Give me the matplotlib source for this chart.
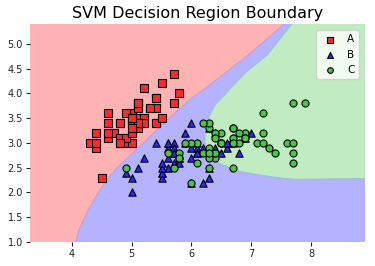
import numpy as np
import matplotlib
matplotlib.use("Agg")
import matplotlib.pyplot as plt

# Iris sepal length / width
setosa_x = [5.1,4.9,4.7,4.6,5.0,5.4,4.6,5.0,4.4,4.9,5.4,4.8,4.8,4.3,5.8,5.7,5.4,5.1,5.7,5.1,
            5.4,5.1,4.6,5.1,4.8,5.0,5.0,5.2,5.2,4.7,4.8,5.4,5.2,5.5,4.9,5.0,5.5,4.9,4.4,5.1,
            5.0,4.5,4.4,5.0,5.1,4.8,5.1,4.6,5.3,5.0]
setosa_y = [3.5,3.0,3.2,3.1,3.6,3.9,3.4,3.4,2.9,3.1,3.7,3.4,3.0,3.0,4.0,4.4,3.9,3.5,3.8,3.8,
            3.4,3.7,3.6,3.3,3.4,3.0,3.4,3.5,3.4,3.2,3.1,3.4,4.1,4.2,3.1,3.2,3.5,3.6,3.0,3.4,
            3.5,2.3,3.2,3.5,3.8,3.0,3.8,3.2,3.7,3.3]
versi_x = [7.0,6.4,6.9,5.5,6.5,5.7,6.3,4.9,6.6,5.2,5.0,5.9,6.0,6.1,5.6,6.7,5.6,5.8,6.2,5.6,
           5.9,6.1,6.3,6.1,6.4,6.6,6.8,6.7,6.0,5.7,5.5,5.5,5.8,6.0,5.4,6.0,6.7,6.3,5.6,5.5,
           5.5,6.1,5.8,5.0,5.6,5.7,5.7,6.2,5.1,5.7]
versi_y = [3.2,3.2,3.1,2.3,2.8,2.8,3.3,2.4,2.9,2.7,2.0,3.0,2.2,2.9,2.9,3.1,3.0,2.7,2.2,2.5,
           3.2,2.8,2.5,2.8,2.9,3.0,2.8,3.0,2.9,2.6,2.4,2.4,2.7,2.7,3.0,3.4,3.1,2.3,3.0,2.5,
           2.6,3.0,2.6,2.3,2.7,3.0,2.9,2.9,2.5,2.8]
virg_x = [6.3,5.8,7.1,6.3,6.5,7.6,4.9,7.3,6.7,7.2,6.5,6.4,6.8,5.7,5.8,6.4,6.5,7.7,7.7,6.0,
          6.9,5.6,7.7,6.3,6.7,7.2,6.2,6.1,6.4,7.2,7.4,7.9,6.4,6.3,6.1,7.7,6.3,6.4,6.0,6.9,
          6.7,6.9,5.8,6.8,6.7,6.7,6.3,6.5,6.2,5.9]
virg_y = [3.3,2.7,3.0,2.9,3.0,3.0,2.5,2.9,2.5,3.6,3.2,2.7,3.0,2.5,2.8,3.2,3.0,3.8,2.6,2.2,
          3.2,2.8,2.8,2.7,3.3,3.2,2.8,3.0,2.8,3.0,2.8,3.8,2.8,2.8,2.6,3.0,3.4,3.1,3.0,3.1,
          3.1,3.1,2.7,3.2,3.3,3.0,2.5,3.0,3.4,3.0]

class_labels = ["A", "B", "C"]

# Decision boundaries (data coordinates)
red_blue_x = [7.55, 6.948, 6.587, 6.224, 5.945, 5.416, 5.166, 5.070, 4.719, 4.468, 4.268, 4.117, 4.062]
red_blue_y = [5.40, 4.772, 4.434, 4.097, 3.848, 3.263, 2.960, 2.859, 2.455, 2.051, 1.646, 1.242, 1.000]
green_blue_x = [7.679, 7.266, 6.921, 6.692, 6.542, 6.408, 6.308, 6.241, 6.224, 6.241, 6.324, 6.525,
                6.809, 7.144, 7.528, 7.763, 8.900]
green_blue_y = [5.400, 4.772, 4.434, 4.152, 3.949, 3.788, 3.566, 3.323, 3.061, 2.859, 2.677, 2.556,
                2.424, 2.354, 2.287, 2.267, 2.283]

x_min, x_max = 3.3, 8.9
y_min, y_max = 1.0, 5.4

fig = plt.figure(figsize=(3.75, 2.66), dpi=100)
ax = fig.add_axes([0.08, 0.09, 0.893, 0.82])

region_blue = "#b3b3ff"
region_red = "#ffb3b3"
region_green = "#c1ecc1"

ax.add_patch(plt.Rectangle((x_min, y_min), x_max - x_min, y_max - y_min,
                           facecolor=region_blue, edgecolor="none", zorder=0))
rx = [x_min] + red_blue_x + [x_min]
ry = [y_max] + red_blue_y + [y_min]
ax.fill(rx, ry, color=region_red, lw=0, zorder=1)
gx = green_blue_x + [x_max]
gy = green_blue_y + [y_max]
ax.fill(gx, gy, color=region_green, lw=0, zorder=1)
ax.plot(red_blue_x, red_blue_y, color="#c59ae0", lw=0.7, zorder=2)
ax.plot(green_blue_x, green_blue_y, color="#8fc8c8", lw=0.7, zorder=2)

ax.scatter(setosa_x, setosa_y, s=26, marker="s", c="#ff2a2a", edgecolors="black",
           linewidths=0.8, label=class_labels[0], zorder=3)
ax.scatter(versi_x, versi_y, s=28, marker="^", c="#2a2aff", edgecolors="black",
           linewidths=0.8, label=class_labels[1], zorder=3)
ax.scatter(virg_x, virg_y, s=26, marker="o", c="#4cc44c", edgecolors="black",
           linewidths=0.8, label=class_labels[2], zorder=3)

ax.set_xlim(x_min, x_max)
ax.set_ylim(y_min, y_max)
ax.set_xticks([4, 5, 6, 7, 8])
ax.set_yticks(np.arange(1.0, 5.01, 0.5))
ax.set_yticklabels([f"{v:.1f}" for v in np.arange(1.0, 5.01, 0.5)])
for s in ax.spines.values():
    s.set_visible(False)
ax.tick_params(labelsize=7, length=3, width=0.8, pad=2, colors="#222222")
ax.set_title("SVM Decision Region Boundary", fontsize=11.5, pad=4)
leg = ax.legend(loc="upper right", fontsize=7.5, handletextpad=0.6, borderpad=0.4,
                labelspacing=0.5, markerscale=0.8, borderaxespad=0.6)
leg.get_frame().set_alpha(0.8)

fig.savefig("out.png", dpi=100)
